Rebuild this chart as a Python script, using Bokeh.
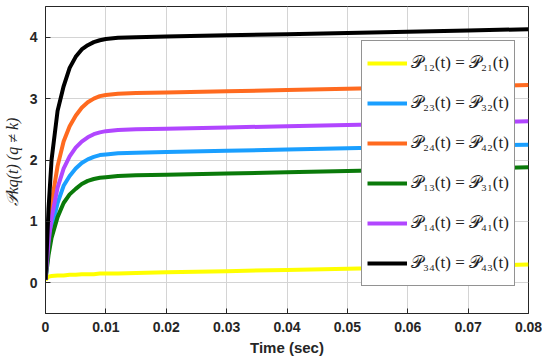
from bokeh.plotting import figure
from bokeh.models import Legend, LegendItem, FixedTicker, Range1d
from bokeh.embed import file_html
from bokeh.resources import INLINE

t = [0, 0.0005, 0.001, 0.002, 0.003, 0.004, 0.005, 0.006, 0.007, 0.008, 0.009,
     0.010, 0.012, 0.015, 0.02, 0.03, 0.04, 0.05, 0.06, 0.07, 0.08]

p12 = [0.05, 0.10, 0.11, 0.12, 0.12, 0.13, 0.13, 0.14, 0.14, 0.14, 0.15,
       0.15, 0.15, 0.16, 0.17, 0.19, 0.21, 0.23, 0.25, 0.27, 0.30]
p23 = [0.05, 0.55, 0.88, 1.30, 1.58, 1.74, 1.86, 1.95, 2.01, 2.05, 2.08,
       2.09, 2.11, 2.12, 2.13, 2.15, 2.17, 2.19, 2.21, 2.23, 2.25]
p24 = [0.05, 0.80, 1.30, 1.90, 2.30, 2.55, 2.72, 2.85, 2.94, 3.00, 3.04,
       3.06, 3.08, 3.09, 3.10, 3.12, 3.14, 3.16, 3.18, 3.20, 3.22]
p13 = [0.05, 0.45, 0.73, 1.07, 1.30, 1.44, 1.53, 1.61, 1.66, 1.69, 1.71,
       1.72, 1.74, 1.75, 1.76, 1.78, 1.80, 1.82, 1.84, 1.86, 1.88]
p14 = [0.05, 0.65, 1.05, 1.55, 1.86, 2.06, 2.20, 2.30, 2.37, 2.42, 2.45,
       2.47, 2.49, 2.50, 2.51, 2.53, 2.55, 2.57, 2.59, 2.61, 2.63]
p34 = [0.05, 1.20, 2.00, 2.80, 3.20, 3.50, 3.68, 3.80, 3.87, 3.92, 3.95,
       3.97, 3.99, 4.00, 4.01, 4.03, 4.05, 4.07, 4.09, 4.11, 4.13]

labels = ["𝒫₁₂(t) = 𝒫₂₁(t)", "𝒫₂₃(t) = 𝒫₃₂(t)", "𝒫₂₄(t) = 𝒫₄₂(t)",
          "𝒫₁₃(t) = 𝒫₃₁(t)", "𝒫₁₄(t) = 𝒫₄₁(t)", "𝒫₃₄(t) = 𝒫₄₃(t)"]
series = [p12, p23, p24, p13, p14, p34]
colors = ["#ffff00", "#1a9fff", "#ff6a1f", "#0a7a0a", "#b146ff", "#000000"]

x_ticks = [0, 0.01, 0.02, 0.03, 0.04, 0.05, 0.06, 0.07, 0.08]
y_ticks = [0, 1, 2, 3, 4]

p = figure(width=542, height=358, output_backend="svg", toolbar_location=None,
           x_range=Range1d(0, 0.08), y_range=Range1d(-0.5, 4.5),
           min_border_left=38, min_border_right=14, min_border_top=6,
           min_border_bottom=45)

items = []
for ys, c, lab in zip(series, colors, labels):
    r = p.line(t, ys, line_color=c, line_width=4)
    items.append(LegendItem(label=lab, renderers=[r]))

p.xaxis.ticker = FixedTicker(ticks=x_ticks)
p.yaxis.ticker = FixedTicker(ticks=y_ticks)
p.xaxis.major_label_overrides = {0: "0"}
p.xaxis.axis_label = "Time (sec)"
p.yaxis.axis_label = "𝒫kq(t)  (q ≠ k)"

for ax in [p.xaxis[0], p.yaxis[0]]:
    ax.major_label_text_font = "Liberation Sans"
    ax.major_label_text_font_style = "bold"
    ax.major_label_text_font_size = "14px"
    ax.major_label_text_color = "#262626"
    ax.axis_label_text_font_size = "15px"
    ax.axis_label_text_color = "#262626"
    ax.major_tick_in = 5
    ax.major_tick_out = 0
    ax.minor_tick_in = 0
    ax.minor_tick_out = 0
    ax.axis_line_color = "#262626"
    ax.major_tick_line_color = "#262626"

p.xaxis.axis_label_text_font = "Liberation Sans"
p.xaxis.axis_label_text_font_style = "bold"
p.xaxis.axis_label_standoff = 4
p.xaxis.major_label_standoff = 8
p.yaxis.major_label_standoff = 8
p.yaxis.axis_label_text_font = "Liberation Serif"
p.yaxis.axis_label_text_font_style = "italic"
p.yaxis.axis_label_text_font_size = "16px"
p.yaxis.axis_label_standoff = 6

p.xgrid.grid_line_color = "#d4d4d4"
p.ygrid.grid_line_color = "#d4d4d4"
p.outline_line_color = "#262626"

legend = Legend(items=items, location=(316, 27))
legend.label_text_font = "Liberation Serif"
legend.label_text_font_size = "17px"
legend.label_text_color = "#222222"
legend.glyph_width = 40
legend.glyph_height = 34
legend.label_height = 34
legend.spacing = 6
legend.padding = 5
legend.label_standoff = 4
legend.border_line_color = "#262626"
legend.border_line_width = 1
legend.background_fill_alpha = 1
p.add_layout(legend, "center")

open("out.html", "w").write(file_html(p, INLINE))
